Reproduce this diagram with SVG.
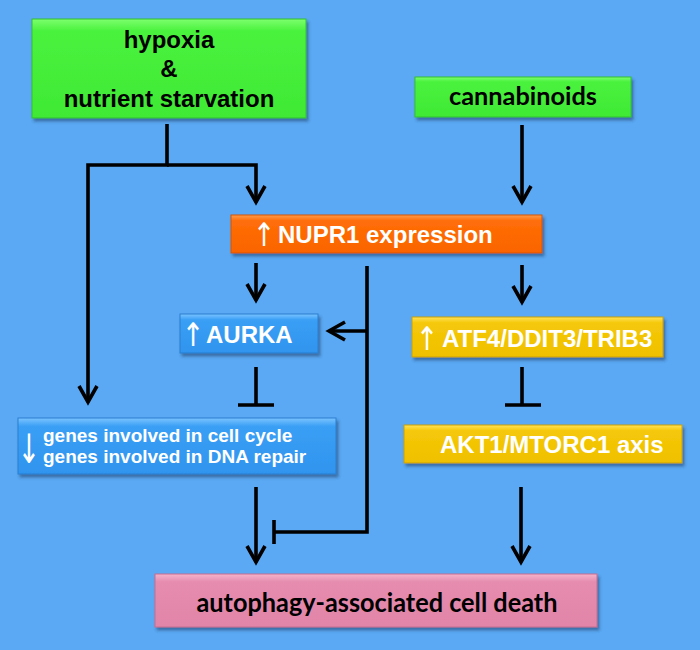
<svg xmlns="http://www.w3.org/2000/svg" width="700" height="650" viewBox="0 0 700 650">
<defs>
<filter id="sh" x="-10%" y="-20%" width="125%" height="150%">
<feDropShadow dx="2" dy="3" stdDeviation="1.8" flood-color="#1a3d66" flood-opacity="0.55"/>
</filter>
<linearGradient id="gGreen" x1="0" y1="0" x2="0" y2="1">
<stop offset="0" stop-color="#7dff6e"/><stop offset="0.12" stop-color="#4af23e"/><stop offset="1" stop-color="#3fe934"/>
</linearGradient>
<linearGradient id="gOrange" x1="0" y1="0" x2="0" y2="1">
<stop offset="0" stop-color="#ff9a4a"/><stop offset="0.15" stop-color="#ff6e08"/><stop offset="1" stop-color="#fb6400"/>
</linearGradient>
<linearGradient id="gBlue" x1="0" y1="0" x2="0" y2="1">
<stop offset="0" stop-color="#7cc4ff"/><stop offset="0.15" stop-color="#3a9ff5"/><stop offset="1" stop-color="#2f94ee"/>
</linearGradient>
<linearGradient id="gYellow" x1="0" y1="0" x2="0" y2="1">
<stop offset="0" stop-color="#ffe25a"/><stop offset="0.15" stop-color="#f5c809"/><stop offset="1" stop-color="#efc000"/>
</linearGradient>
<linearGradient id="gPink" x1="0" y1="0" x2="0" y2="1">
<stop offset="0" stop-color="#f3b3cb"/><stop offset="0.15" stop-color="#e68cae"/><stop offset="1" stop-color="#e285a8"/>
</linearGradient>
<marker id="arr" viewBox="-20 -14 24 28" markerWidth="24" markerHeight="28" refX="0" refY="0" markerUnits="userSpaceOnUse" orient="auto" overflow="visible">
<path d="M-16,-9 L0,0 L-16,9" fill="none" stroke="#000" stroke-width="3.6" stroke-linejoin="miter"/>
</marker>
<style>
.box{filter:url(#sh);stroke-width:1}
.lbl{font-family:"Liberation Sans",Arial,sans-serif;font-weight:bold}
.cal{font-family:Lato,"Open Sans","Liberation Sans",sans-serif;font-weight:bold}
.ar{font-family:"DejaVu Sans",sans-serif;font-weight:normal;text-anchor:middle}
.w{fill:#fff}
.k{fill:#000}
.ln{fill:none;stroke:#000;stroke-width:3.6;stroke-linejoin:miter}
.arw{marker-end:url(#arr)}
</style>
</defs>
<rect width="700" height="650" fill="#5ba9f4"/>

<g id="connectors">
<path class="ln arw" d="M167,124 V165 H88 V402"/>
<path class="ln arw" d="M167,165 H256 V202"/>
<path class="ln arw" d="M522,125 V202"/>
<path class="ln arw" d="M256,263 V300"/>
<path class="ln arw" d="M522,265 V302"/>
<path class="ln" d="M367,266 V532 H274"/>
<path class="ln" d="M274,520 V544"/>
<path class="ln arw" d="M367,331 H329"/>
<path class="ln" d="M256,367 V405"/>
<path class="ln" d="M238,405 H274"/>
<path class="ln" d="M522,367 V405"/>
<path class="ln" d="M505,405 H541"/>
<path class="ln arw" d="M256,487 V562"/>
<path class="ln arw" d="M521,487 V562"/>
</g>

<g id="hypoxia">
<rect class="box" x="32" y="19" width="274" height="99" fill="url(#gGreen)" stroke="#34c02c"/>
<text class="lbl k" font-size="24" text-anchor="middle"><tspan x="169" y="48">hypoxia</tspan><tspan x="169" y="77">&amp;</tspan><tspan x="169" y="107">nutrient starvation</tspan></text>
</g>

<g id="cannabinoids">
<rect class="box" x="415" y="77" width="216" height="40" fill="url(#gGreen)" stroke="#34c02c"/>
<text class="cal k" x="523" y="105" font-size="25" text-anchor="middle" textLength="148" lengthAdjust="spacingAndGlyphs">cannabinoids</text>
</g>

<g id="nupr1">
<rect class="box" x="231" y="215" width="311" height="38" fill="url(#gOrange)" stroke="#d65400"/>
<text class="ar w" font-size="27" transform="translate(264,246) scale(1,1.2)">↑</text>
<text class="lbl w" font-size="24" x="278" y="243">NUPR1 expression</text>
</g>

<g id="aurka">
<rect class="box" x="180" y="314" width="138" height="39" fill="url(#gBlue)" stroke="#2a7fd0"/>
<text class="ar w" font-size="27" transform="translate(193,346) scale(1,1.2)">↑</text>
<text class="lbl w" font-size="24" x="206" y="343">AURKA</text>
</g>

<g id="atf4">
<rect class="box" x="412" y="317" width="251" height="40" fill="url(#gYellow)" stroke="#c9a000"/>
<text class="ar w" font-size="27" transform="translate(427,350) scale(1,1.2)">↑</text>
<text class="lbl w" font-size="24" x="442" y="347">ATF4/DDIT3/TRIB3</text>
</g>

<g id="genes">
<rect class="box" x="18" y="418" width="318" height="56" fill="url(#gBlue)" stroke="#2a7fd0"/>
<text class="ar w" font-size="27" transform="translate(29,463) scale(1,1.5)">↓</text>
<text class="lbl w" font-size="19"><tspan x="43" y="442">genes involved in cell cycle</tspan><tspan x="43" y="463">genes involved in DNA repair</tspan></text>
</g>

<g id="akt1">
<rect class="box" x="404" y="425" width="278" height="38" fill="url(#gYellow)" stroke="#c9a000"/>
<text class="lbl w" x="440" y="453" font-size="24">AKT1/MTORC1 axis</text>
</g>

<g id="death">
<rect class="box" x="155" y="574" width="442" height="53" fill="url(#gPink)" stroke="#c56d8f"/>
<text class="cal k" x="377" y="612" font-size="27" text-anchor="middle" textLength="361" lengthAdjust="spacingAndGlyphs">autophagy-associated cell death</text>
</g>
</svg>
